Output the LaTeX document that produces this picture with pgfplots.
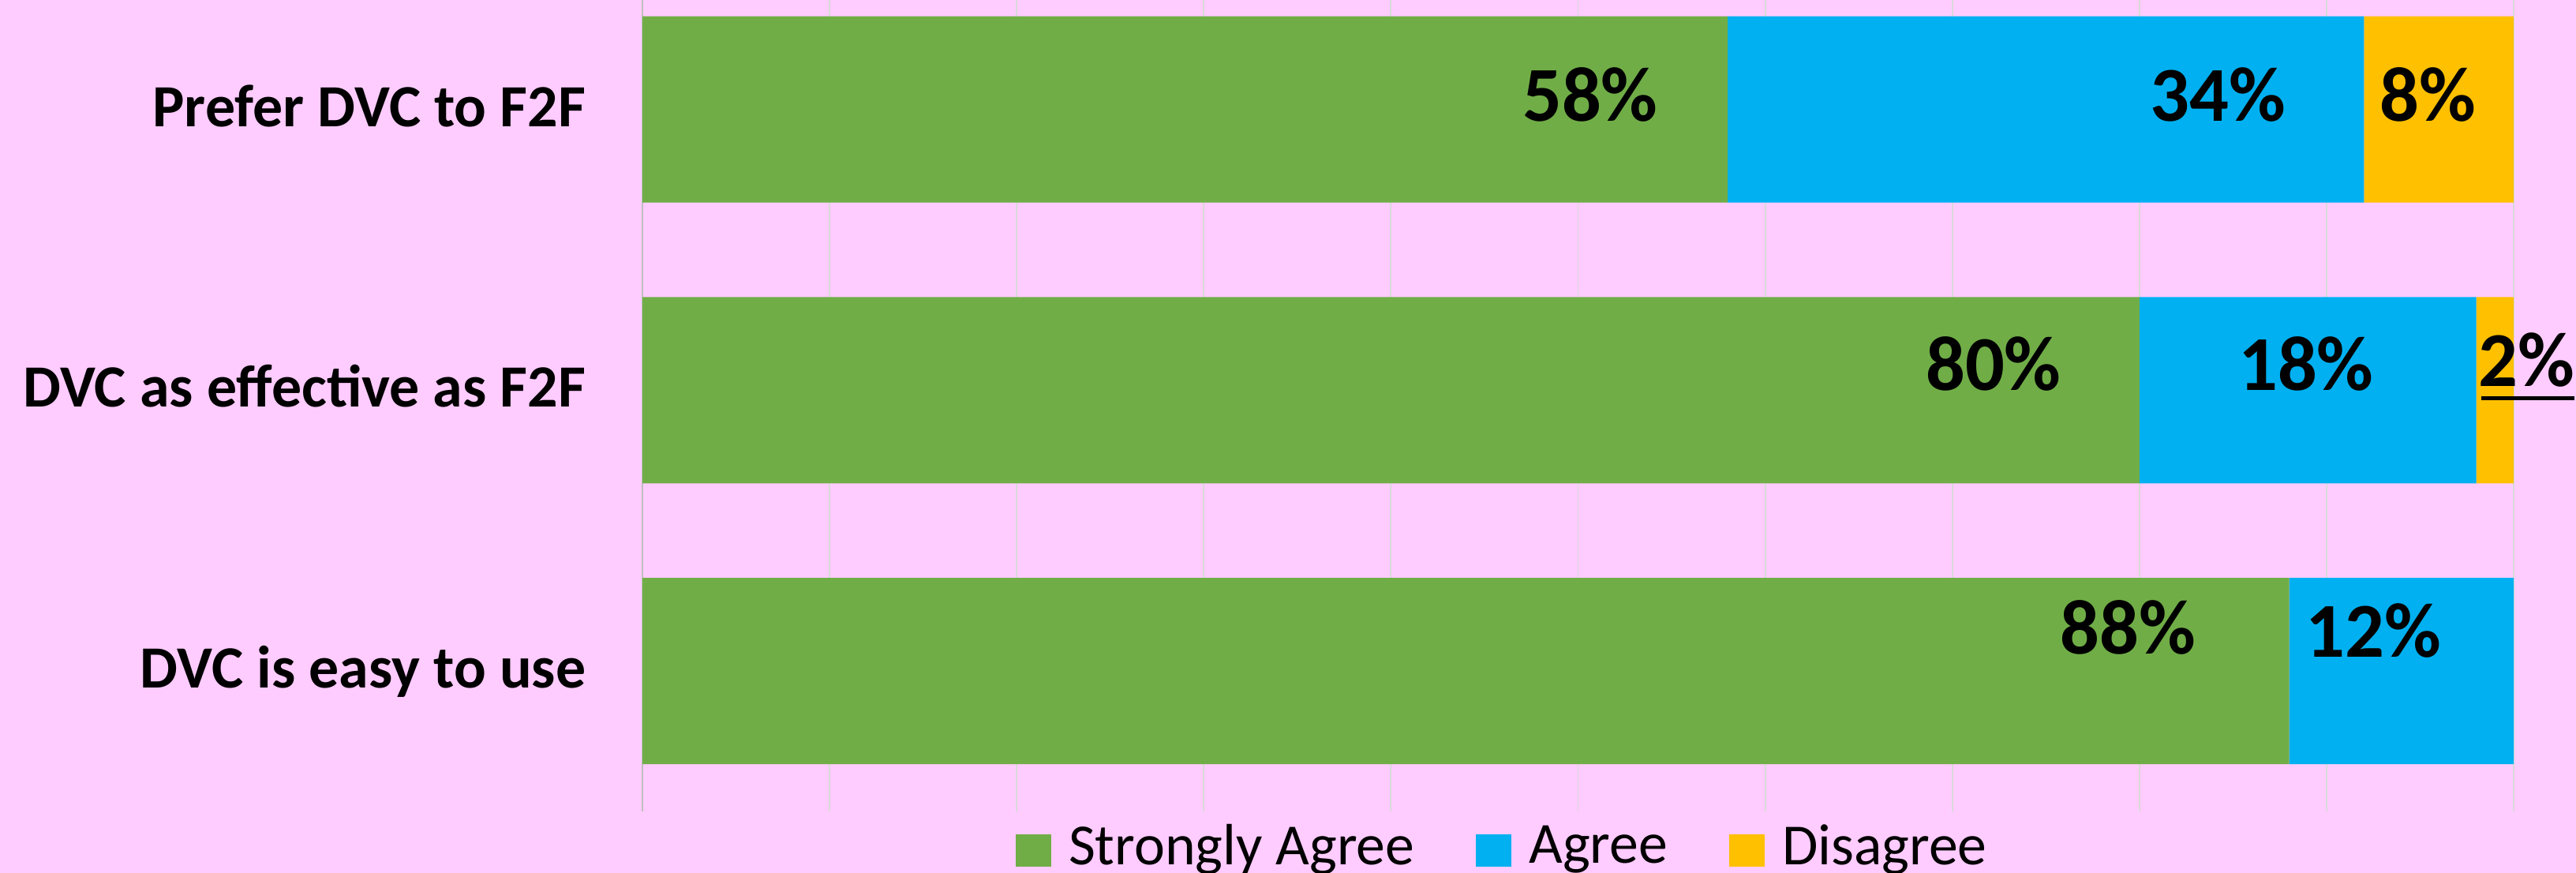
\documentclass[border=0pt]{standalone}
\usepackage{pgfplots}
\pgfplotsset{compat=1.18}
\usepackage{fontspec}
\setmainfont{Carlito}
\definecolor{bgpink}{HTML}{FFCCFF}
\definecolor{sagree}{HTML}{70AD47}
\definecolor{agree}{HTML}{00B0F0}
\definecolor{disagree}{HTML}{FFC000}
\definecolor{gridgray}{HTML}{D9D9D9}
\definecolor{axgray}{HTML}{BFBFBF}
\begin{document}
\begin{tikzpicture}
\fill[bgpink] (0,0) rectangle (32.64,11.06);
\begin{axis}[
  at={(8.14cm,0.78cm)}, anchor=south west,
  scale only axis, width=23.71cm, height=10.28cm,
  xbar stacked, bar width=2.36cm,
  xmin=0, xmax=100, ymin=-0.5, ymax=2.39,
  ytick={0,1,2},
  yticklabels={DVC is easy to use, DVC as effective as F2F, Prefer DVC to F2F},
  xtick={0,10,...,100}, xticklabels={},
  xmajorgrids, grid style={draw=gridgray, line width=0.55pt},
  major tick length=0pt,
  axis x line*=bottom, axis y line*=left,
  x axis line style={draw=none},
  y axis line style={draw=axgray, line width=0.6pt},
  yticklabel style={anchor=base east, inner sep=0pt, xshift=-0.71cm, yshift=-0.215cm,
    font=\bfseries\fontsize{21.6}{26}\selectfont},
  legend style={at={(0.459,-0.071)}, anchor=south, draw=none, fill=none,
    legend columns=3, inner sep=0pt, outer sep=0pt,
    font=\fontsize{21}{25}\selectfont,
    nodes={inner sep=0pt},
    /tikz/every odd column/.append style={column sep=0.22cm},
    /tikz/every even column/.append style={column sep=0.78cm}},
  legend image code/.code={\fill[#1] (0cm,-0.25cm) rectangle (0.45cm,0.16cm);},
]
\addplot[fill=sagree, draw=none] coordinates {(88,0) (80,1) (58,2)};
\addlegendentry{Strongly Agree}
\addplot[fill=agree, draw=none] coordinates {(12,0) (18,1) (34,2)};
\addlegendentry{Agree}
\addplot[fill=disagree, draw=none] coordinates {(0,0) (2,1) (8,2)};
\addlegendentry{Disagree}
\end{axis}
\begin{axis}[
  at={(8.14cm,0.78cm)}, anchor=south west,
  scale only axis, width=23.71cm, height=10.28cm,
  xmin=0, xmax=100, ymin=-0.5, ymax=2.39,
  hide axis, clip=false,
]
\addplot[draw=none, mark=none, nodes near coords, point meta=explicit symbolic,
  nodes near coords style={anchor=base, inner sep=0pt, text=black,
    font=\bfseries\fontsize{28}{32}\selectfont}]
  coordinates {
  (50.65,1.959) [58\%]
  (84.2,1.959) [34\%]
  (95.4,1.959) [8\%]
  (72.2,0.999) [80\%]
  (88.9,0.999) [18\%]
  (100.7,1.013) [2\%\llap{\rule[-0.17cm]{1.18cm}{0.05cm}}]
  (79.4,0.060) [88\%]
  (92.5,0.049) [12\%]
  };
\end{axis}
\pgfresetboundingbox
\useasboundingbox (0,0) rectangle (32.64,11.06);
\end{tikzpicture}
\end{document}
